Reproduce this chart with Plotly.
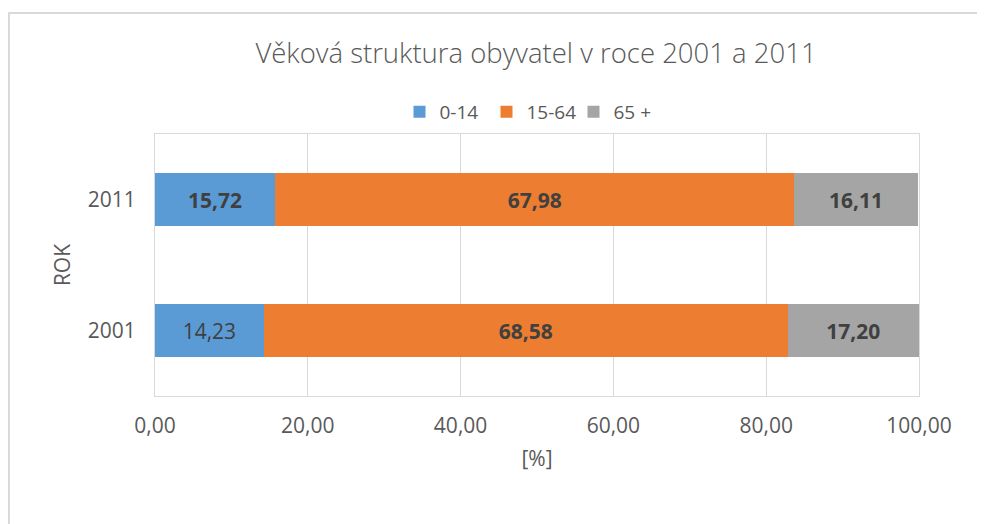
import plotly.graph_objects as go

years = ["2001", "2011"]
series_names = ["0-14", "15-64", "65 +"]
v_0_14 = [14.23, 15.72]
v_15_64 = [68.58, 67.98]
v_65 = [17.20, 16.11]
colors = ["#5B9BD5", "#ED7D31", "#A5A5A5"]
x_ticks = [0, 20, 40, 60, 80, 100]
bold_flags = {"0-14": [False, True], "15-64": [True, True], "65 +": [True, True]}

def fmt(v, bold):
    s = f"{v:.2f}".replace(".", ",")
    return f"<b>{s}</b>" if bold else s

font_family = "Open Sans"
fig = go.Figure()
for name, vals, col in zip(series_names, [v_0_14, v_15_64, v_65], colors):
    fig.add_trace(go.Bar(
        y=years, x=vals, name=name, orientation="h",
        marker=dict(color=col, line=dict(width=0)),
        text=[fmt(v, b) for v, b in zip(vals, bold_flags[name])],
        textposition="inside", insidetextanchor="middle",
        textfont=dict(family=font_family, size=21, color="#404040"),
        hoverinfo="x+name",
    ))

# page body has an 8px offset
OFF = 8
W, H = 985 - OFF, 524 - OFF
L, T = 155 - OFF, 134 - OFF
pw, ph = 764, 262
R, B = W - L - pw, H - T - ph

def px_x(p):
    return (p - OFF - L) / pw

def px_y(p):
    return (H - B - (p - OFF)) / ph

fig.update_layout(
    width=W, height=H,
    barmode="stack", bargap=0.6,
    separators=", ",
    paper_bgcolor="white", plot_bgcolor="white",
    margin=dict(l=L, r=R, t=T, b=B),
    font=dict(family=font_family, color="#595959"),
    title=dict(text="Věková struktura obyvatel v roce 2001 a 2011",
               x=px_x(536), xref="paper", xanchor="center",
               y=1 - (53 - OFF) / H, yref="container", yanchor="middle",
               font=dict(family=font_family, size=27.5, color="#595959", weight=300)),
    legend=dict(orientation="h", x=px_x(530), xanchor="center",
                y=px_y(112), yanchor="middle",
                font=dict(family=font_family, size=19, color="#595959"),
                itemwidth=30, entrywidth=42, entrywidthmode="pixels",
                traceorder="normal"),
    xaxis=dict(range=[0, 100], tickvals=x_ticks, tickformat=".2f",
               showgrid=True, gridcolor="#D9D9D9", gridwidth=1,
               showline=True, mirror=True, linecolor="#D9D9D9", linewidth=1,
               zeroline=False, ticks="", ticklabelstandoff=11,
               tickfont=dict(family=font_family, size=21, color="#595959"),
               title=dict(text="[%]", standoff=13,
                          font=dict(family=font_family, size=21, color="#595959"))),
    yaxis=dict(type="category", categoryorder="array", categoryarray=years,
               showgrid=False, showline=True, mirror=True,
               linecolor="#D9D9D9", linewidth=1, ticks="",
               ticklabelstandoff=14,
               tickfont=dict(family=font_family, size=21, color="#595959"),
               title=dict(text="ROK", standoff=11,
                          font=dict(family=font_family, size=21, color="#595959"))),
    shapes=[dict(type="rect", xref="paper", yref="paper",
                 x0=px_x(9), x1=px_x(1000), y0=px_y(540), y1=px_y(13),
                 line=dict(color="#D9D9D9", width=2), layer="below")],
)

fig.write_html("out.html")
